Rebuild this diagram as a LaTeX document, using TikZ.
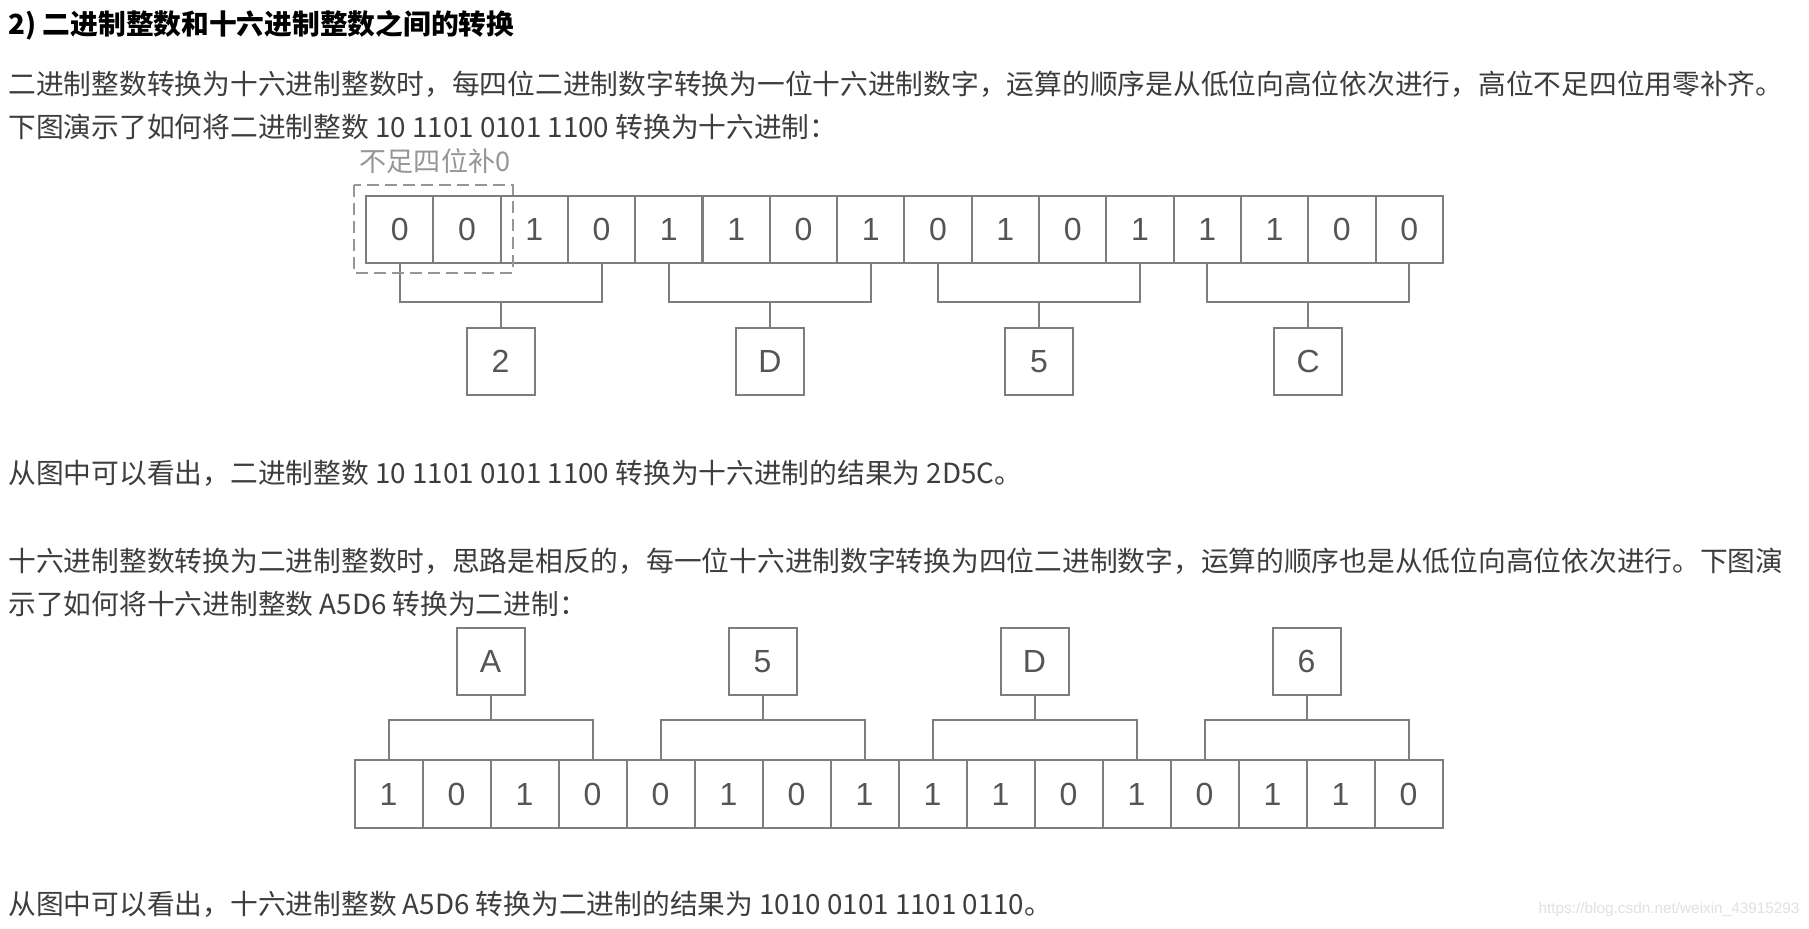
\documentclass[tikz,border=0pt]{standalone}
\usepackage{fontspec}
\newfontfamily\cjk{Noto Sans CJK SC}
\newfontfamily\digitfont{Liberation Sans}
\definecolor{textgray}{RGB}{61,61,61}
\definecolor{linegray}{RGB}{125,125,125}
\definecolor{digitgray}{RGB}{85,85,85}
\definecolor{notegray}{RGB}{150,150,150}
\definecolor{markgray}{RGB}{225,225,225}

\tikzset{every picture/.style={line width=0.75pt}}
\tikzset{
  para/.style={anchor=west, inner sep=0pt, text=textgray, font=\cjk\fontsize{20.8}{25}\selectfont},
  bit/.style={draw=linegray, line width=1.5pt, minimum width=50.5pt, minimum height=50.3pt, inner sep=0pt, text=digitgray, font=\digitfont\fontsize{24}{28}\selectfont},
  lowbit/.style={bit, minimum width=51pt, minimum height=51pt},
  hexbox/.style={bit, minimum width=51pt, minimum height=50pt},
  wire/.style={draw=linegray, line width=1.5pt},
}

\begin{document}
\begin{tikzpicture}[x=0.75pt,y=0.75pt,yscale=-1,xscale=1]
\useasboundingbox (0,0) rectangle (1809,928);
\fill[white] (0,0) rectangle (1809,928);

% Text Node
\node [para, text=black, font=\cjk\bfseries\fontsize{20.8}{25}\selectfont] (title) at (8,25) {2) 二进制整数和十六进制整数之间的转换};
% Text Node
\node [para] (para1a) at (8,84) {二进制整数转换为十六进制整数时，每四位二进制数字转换为一位十六进制数字，运算的顺序是从低位向高位依次进行，高位不足四位用零补齐。};
% Text Node
\node [para] (para1b) at (8,127) {下图演示了如何将二进制整数 10 1101 0101 1100 转换为十六进制：};

%Binary cells, upper figure
\foreach \b [count=\i] in {0,0,1,0,1,1,0,1,0,1,0,1,1,1,0,0}
  \node [bit] (t\i) at ({366+67.3*(\i-0.5)},229.5) {\b};
%Hex boxes, upper figure
\foreach \h [count=\k] in {2,D,5,C}
  \node [hexbox] (h\k) at ({366+67.3*(4*\k-2)},361.75) {\h};
\coordinate (topbar) at (0,302);
\foreach \k in {1,...,4} {
  \pgfmathtruncatemacro\first{4*\k-3}
  \pgfmathtruncatemacro\last{4*\k}
  \draw [wire] (t\first.south) |- (h\k.north |- topbar) -| (t\last.south);
  \draw [wire] (h\k.north) -- (h\k.north |- topbar);
}

%Shape: Dashed padding box
\draw [notegray, line width=1.5pt, dash pattern=on 9pt off 4.5pt] (354,185) rectangle (512.7,272.7);
% Text Node
\node [inner sep=0pt, text=notegray, font=\cjk\fontsize{20.3}{24}\selectfont] (pad) at (435,161) {不足四位补0};

% Text Node
\node [para] (result1) at (8,473) {从图中可以看出，二进制整数 10 1101 0101 1100 转换为十六进制的结果为 2D5C。};
% Text Node
\node [para] (para2a) at (8,561) {十六进制整数转换为二进制整数时，思路是相反的，每一位十六进制数字转换为四位二进制数字，运算的顺序也是从低位向高位依次进行。下图演};
% Text Node
\node [para] (para2b) at (8,604) {示了如何将十六进制整数 A5D6 转换为二进制：};

%Hex boxes, lower figure
\foreach \h [count=\k] in {A,5,D,6}
  \node [hexbox] (g\k) at ({354.5+68*(4*\k-2)},661.75) {\h};
%Binary cells, lower figure
\foreach \b [count=\i] in {1,0,1,0,0,1,0,1,1,1,0,1,0,1,1,0}
  \node [lowbit] (b\i) at ({354.5+68*(\i-0.5)},794) {\b};
\coordinate (botbar) at (0,720);
\foreach \k in {1,...,4} {
  \pgfmathtruncatemacro\first{4*\k-3}
  \pgfmathtruncatemacro\last{4*\k}
  \draw [wire] (b\first.north) |- (g\k.south |- botbar) -| (b\last.north);
  \draw [wire] (g\k.south) -- (g\k.south |- botbar);
}

% Text Node
\node [para] (result2) at (8,904) {从图中可以看出，十六进制整数 A5D6 转换为二进制的结果为 1010 0101 1101 0110。};
% Text Node
\node [anchor=east, inner sep=0pt, text=markgray, font=\digitfont\fontsize{11.5}{14}\selectfont] (mark) at (1800,910) {https://blog.csdn.net/weixin\_43915293};

\end{tikzpicture}
\end{document}
